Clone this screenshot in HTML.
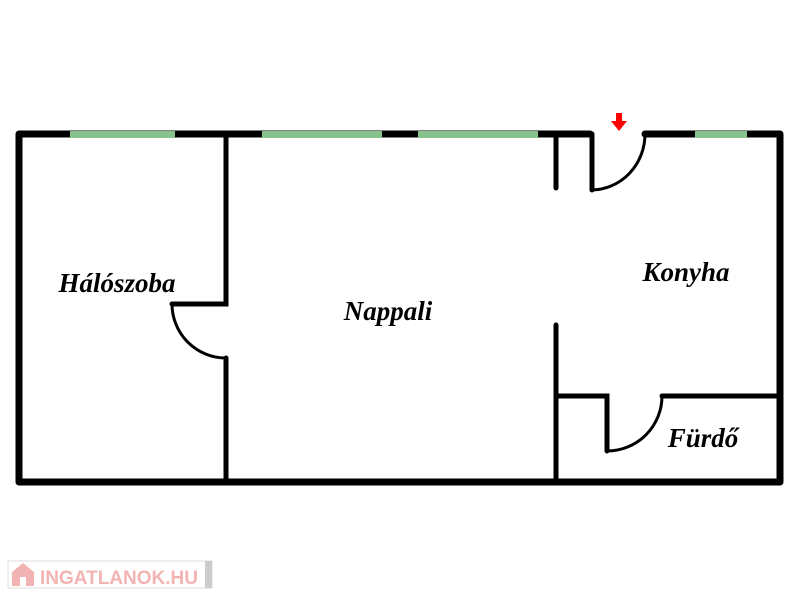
<!DOCTYPE html>
<html><head><style>body{margin:0;background:#fff}svg{display:block}</style></head><body>
<svg width="800" height="600" viewBox="0 0 800 600" xmlns="http://www.w3.org/2000/svg">
<g stroke="#000" fill="none" stroke-linecap="round">
<path d="M590 134 H19 V482 H780 V134 H645" stroke-width="7" stroke-linejoin="round"/>
<g stroke-width="5">
<path d="M226 134 V304 H172"/>
<path d="M226 358 V482"/>
<path d="M556 134 V188"/>
<path d="M556 325 V482"/>
<path d="M556 396 H607 V451"/>
<path d="M662 396 H780"/>
<path d="M592 134 V190"/>
</g>
<g stroke-width="3">
<path d="M172 304 A54 54 0 0 0 226 358"/>
<path d="M592 190 A54 56 0 0 0 645 134"/>
<path d="M607 451 A55 55 0 0 0 662 396"/>
</g>
</g>
<g fill="#86c38c">
<rect x="70" y="131" width="105" height="7"/>
<rect x="262" y="131" width="120" height="7"/>
<rect x="418" y="131" width="120" height="7"/>
<rect x="695" y="131" width="52" height="7"/>
</g>
<path d="M616 113 h6 v8 h5 l-8 10 l-8 -10 h5 z" fill="#f00"/>
<g font-family="Liberation Serif, serif" font-weight="bold" font-style="italic" font-size="27" text-anchor="middle" fill="#000">
<text x="117" y="292">Hálószoba</text>
<text x="388" y="320">Nappali</text>
<text x="686" y="281">Konyha</text>
<text x="703" y="447">Fürdő</text>
</g>
<rect x="8" y="561" width="204" height="27" fill="#fff" stroke="#ddd"/>
<rect x="205" y="561" width="7" height="27" fill="#ccc"/>
<path d="M12 572 L23 563 L34 572 V586 H12 Z" fill="#f2b3b3"/>
<rect x="20" y="577" width="6" height="9" fill="#fff"/>
<text x="40" y="584" font-family="Liberation Sans, sans-serif" font-weight="bold" font-size="19" fill="#f2b3b3">INGATLANOK.HU</text>
</svg>
</body></html>
